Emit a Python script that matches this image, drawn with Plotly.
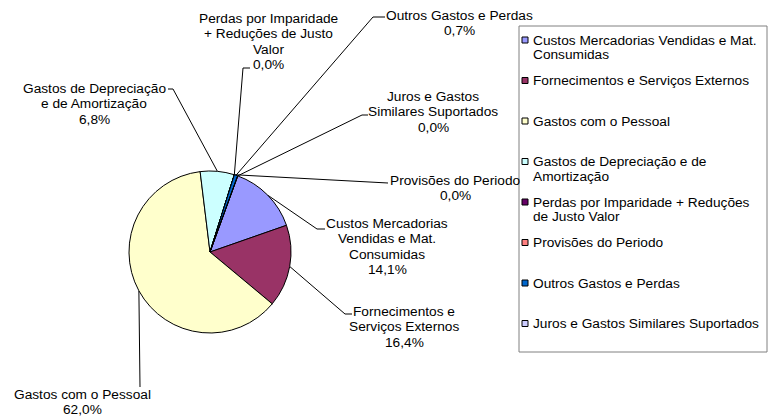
import math
import plotly.graph_objects as go

# ---------------- data ----------------
categories = [
    "Custos Mercadorias Vendidas e Mat. Consumidas",
    "Fornecimentos e Serviços Externos",
    "Gastos com o Pessoal",
    "Gastos de Depreciação e de Amortização",
    "Perdas por Imparidade + Reduções de Justo Valor",
    "Provisões do Periodo",
    "Outros Gastos e Perdas",
    "Juros e Gastos Similares Suportados",
]
values = [14.1, 16.4, 62.0, 6.8, 0.0, 0.0, 0.7, 0.0]

pie_label_lines = [
    ["Custos Mercadorias", "Vendidas e Mat.", "Consumidas"],
    ["Fornecimentos e", "Serviços Externos"],
    ["Gastos com o Pessoal"],
    ["Gastos de Depreciação", "e de Amortização"],
    ["Perdas por Imparidade", "+ Reduções de Justo", "Valor"],
    ["Provisões do Periodo"],
    ["Outros Gastos e Perdas"],
    ["Juros e Gastos", "Similares Suportados"],
]
legend_lines = [
    ["Custos Mercadorias Vendidas e Mat.", "Consumidas"],
    ["Fornecimentos e Serviços Externos"],
    ["Gastos com o Pessoal"],
    ["Gastos de Depreciação e de", "Amortização"],
    ["Perdas por Imparidade + Reduções", "de Justo Valor"],
    ["Provisões do Periodo"],
    ["Outros Gastos e Perdas"],
    ["Juros e Gastos Similares Suportados"],
]

# ---------------- style / layout ----------------
colors = ["#9999FF", "#993366", "#FFFFCC", "#CCFFFF",
          "#660066", "#FF8080", "#0066CC", "#CCCCFF"]
FONT = "Liberation Sans, Arial, sans-serif"
FS = 13.7
W, H = 771, 417
CX, CY, R = 210, 252, 81
ROTATION = 20
LINE_H = 15.5

# label text centre x, first line y
label_text_pos = [(387, 223), (404, 311), (82, 394), (94, 88),
                  (268, 18), (455, 180), (459, 15), (433, 96)]
# leader line elbow (x, y) and end x of the short horizontal stroke
leader_elbow = [(317, 229, 325), (345, 314, 352), (140, 387, 140), (173, 89, 168),
                (243, 68, 250), (380, 183, 388), (373, 17, 385), (362, 115, 368)]

fig = go.Figure()

# leader lines (computed from slice mid-angles)
total = sum(values)
cum = 0.0
for i, v in enumerate(values):
    mid = math.radians(ROTATION + (cum + v / 2) / total * 360)
    cum += v
    ex = CX + R * math.sin(mid)
    ey = CY - R * math.cos(mid)
    bx, by, endx = leader_elbow[i]
    fig.add_trace(go.Scatter(
        x=[ex, bx, endx], y=[ey, by, by], mode="lines",
        line=dict(color="black", width=1), hoverinfo="skip", showlegend=False,
        xaxis="x", yaxis="y"))

# pie
fig.add_trace(go.Pie(
    labels=categories, values=values, sort=False, direction="clockwise",
    rotation=ROTATION, textinfo="none",
    marker=dict(colors=colors, line=dict(color="black", width=1)),
    domain=dict(x=[(CX - R) / W, (CX + R) / W],
                y=[(H - CY - R) / H, (H - CY + R) / H]),
    showlegend=False,
))

annotations = []
# pie labels
for i, v in enumerate(values):
    pct = f"{v / total * 100:.1f}".replace(".", ",") + "%"
    lines = pie_label_lines[i] + [pct]
    tx, ty = label_text_pos[i]
    for k, t in enumerate(lines):
        annotations.append(dict(
            x=tx, y=ty + k * LINE_H, xref="x", yref="y", text=t, showarrow=False,
            xanchor="center", yanchor="middle",
            font=dict(family=FONT, size=FS, color="black")))

# legend (drawn manually)
shapes = [dict(type="rect", xref="x", yref="y", x0=519, y0=26, x1=767, y1=352,
               line=dict(color="#808080", width=1), fillcolor="white", layer="below")]
LEG_Y0, LEG_STEP = 40, 40.5
for i, lines in enumerate(legend_lines):
    yc = LEG_Y0 + i * LEG_STEP
    shapes.append(dict(type="rect", xref="x", yref="y", x0=522, x1=528,
                       y0=yc - 3, y1=yc + 3, fillcolor=colors[i],
                       line=dict(color="black", width=1)))
    for k, t in enumerate(lines):
        annotations.append(dict(
            x=531, y=yc + k * 14.5, xref="x", yref="y", text=t, showarrow=False,
            xanchor="left", yanchor="middle",
            font=dict(family=FONT, size=FS, color="black")))

fig.update_layout(
    width=W, height=H,
    margin=dict(l=0, r=0, t=0, b=0),
    paper_bgcolor="white", plot_bgcolor="white",
    xaxis=dict(range=[0, W], visible=False, fixedrange=True, domain=[0, 1]),
    yaxis=dict(range=[H, 0], visible=False, fixedrange=True, domain=[0, 1]),
    annotations=annotations, shapes=shapes,
    showlegend=False,
)

fig.write_html(
    "out.html",
    config={"displayModeBar": False},
    post_script="document.body.style.margin='0px';document.body.style.overflow='hidden';",
)
